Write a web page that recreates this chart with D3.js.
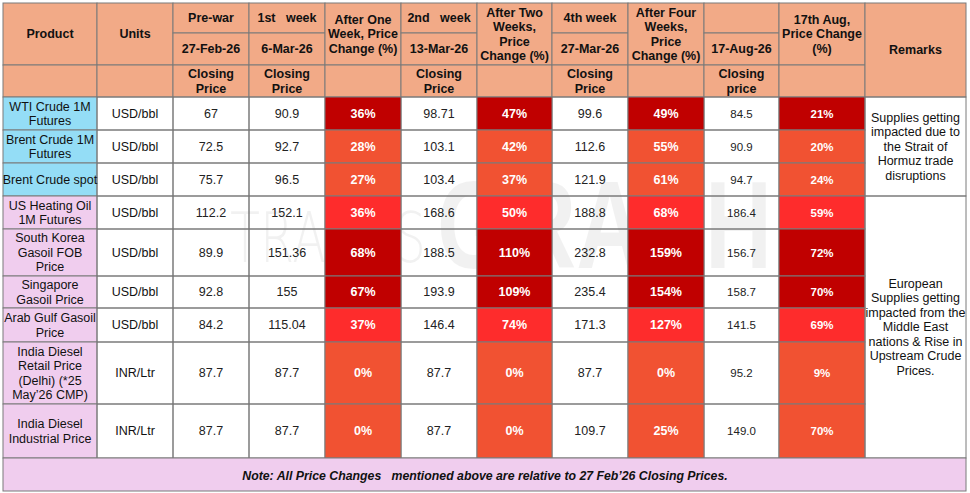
<!DOCTYPE html>
<html>
<head>
<meta charset="utf-8">
<script src="https://cdn.jsdelivr.net/npm/d3@7"></script>
<style>
  body { margin: 0; background: #fff; }
  svg { display: block; font-family: "Liberation Sans", Arial, sans-serif; }
</style>
</head>
<body>
<div id="chart"></div>
<script>
// table data
const products = ["WTI Crude 1M\nFutures", "Brent Crude 1M\nFutures", "Brent Crude spot",
  "US Heating Oil\n1M Futures", "South Korea\nGasoil FOB\nPrice", "Singapore\nGasoil Price",
  "Arab Gulf Gasoil\nPrice", "India Diesel\nRetail Price\n(Delhi) (*25\nMay\u201926 CMP)",
  "India Diesel\nIndustrial Price"];
const productGroup = ["crude", "crude", "crude", "other", "other", "other", "other", "other", "other"];
const units = ["USD/bbl", "USD/bbl", "USD/bbl", "USD/bbl", "USD/bbl", "USD/bbl", "USD/bbl", "INR/Ltr", "INR/Ltr"];
const preWar = ["67", "72.5", "75.7", "112.2", "89.9", "92.8", "84.2", "87.7", "87.7"];
const week1 = ["90.9", "92.7", "96.5", "152.1", "151.36", "155", "115.04", "87.7", "87.7"];
const chg1 = [36, 28, 27, 36, 68, 67, 37, 0, 0];
const week2 = ["98.71", "103.1", "103.4", "168.6", "188.5", "193.9", "146.4", "87.7", "87.7"];
const chg2 = [47, 42, 37, 50, 110, 109, 74, 0, 0];
const week4 = ["99.6", "112.6", "121.9", "188.8", "232.8", "235.4", "171.3", "87.7", "109.7"];
const chg4 = [49, 55, 61, 68, 159, 154, 127, 0, 25];
const aug17 = ["84.5", "90.9", "94.7", "186.4", "156.7", "158.7", "141.5", "95.2", "149.0"];
const chgAug = [21, 20, 24, 59, 72, 70, 69, 9, 70];
const rowTone = ["dark", "orange", "orange", "bright", "dark", "dark", "bright", "orange", "orange"];
const remarks = [
  { text: "Supplies getting\nimpacted due to\nthe Strait of\nHormuz trade\ndisruptions", from: 0, to: 2 },
  { text: "European\nSupplies getting\nimpacted from the\nMiddle East\nnations & Rise in\nUpstream Crude\nPrices.", from: 3, to: 8 }
];
const note = "Note: All Price Changes \u00a0\u00a0mentioned above are relative to 27 Feb\u201926 Closing Prices.";

const W = 970, H = 493;
const colKeys = ["product", "units", "pre", "w1", "c1", "w2", "c2", "w4", "c4", "aug", "caug", "rem"];
const colEdges = [3, 97, 173, 249, 325, 401, 477, 552, 628, 704, 779, 865, 966];
const rowEdges = [97, 130, 163, 196, 229, 276, 308, 342, 404, 458];
const headEdges = [3, 33, 65, 97];
const noteBottom = 491;

const x = d3.scaleOrdinal().domain(colKeys).range(colEdges.slice(0, -1));
const xEnd = d3.scaleOrdinal().domain(colKeys).range(colEdges.slice(1));
const y = d3.scaleOrdinal().domain(d3.range(products.length)).range(rowEdges.slice(0, -1));
const yEnd = d3.scaleOrdinal().domain(d3.range(products.length)).range(rowEdges.slice(1));
const tone = d3.scaleOrdinal().domain(["dark", "orange", "bright"]).range(["#C00000", "#F15232", "#FE2C2C"]);
const groupFill = d3.scaleOrdinal().domain(["crude", "other"]).range(["#94DDF6", "#F0CDEE"]);

const HEAD = "#F2AA87", LINE = "#7a7a7a";

const svg = d3.select("#chart").append("svg").attr("width", W).attr("height", H);
svg.append("rect").attr("width", W).attr("height", H).attr("fill", "#fff");

// watermark, sits under the cells so coloured cells hide it
const wm = svg.append("g").attr("pointer-events", "none").attr("fill", "#000").attr("fill-opacity", 0.055);
wm.append("text").attr("x", 230).attr("y", 262).attr("font-size", 70)
  .attr("font-family", "'DejaVu Sans', sans-serif").attr("font-weight", 200)
  .attr("textLength", 196).attr("lengthAdjust", "spacingAndGlyphs").text("TRADES");
wm.append("text").attr("x", 437).attr("y", 268).attr("font-size", 125).attr("font-weight", "bold")
  .attr("textLength", 335).attr("lengthAdjust", "spacingAndGlyphs").text("GRAPH");

const cells = svg.append("g");
const labels = svg.append("g");

// multi-line text helper
function putText(str, cx, cy, opt) {
  const lines = str.split("\n");
  const lh = opt.lh || 14.5;
  const t = labels.append("text")
    .attr("x", cx).attr("text-anchor", "middle")
    .attr("font-size", opt.size || 12.5)
    .attr("font-weight", opt.bold ? "bold" : "normal")
    .attr("font-style", opt.italic ? "italic" : "normal")
    .attr("fill", opt.color || "#111")
    .attr("xml:space", "preserve")
    .style("white-space", "pre");
  const y0 = cy - (lines.length - 1) * lh / 2;
  lines.forEach((l, i) => {
    t.append("tspan").attr("x", cx).attr("y", y0 + i * lh).attr("dy", "0.35em").text(l);
  });
  return t;
}

function cell(x0, y0, x1, y1, fill) {
  cells.append("rect").attr("x", x0).attr("y", y0).attr("width", x1 - x0).attr("height", y1 - y0)
    .attr("fill", fill).attr("stroke", LINE).attr("stroke-width", 1);
}

// header
const headerCells = [
  { c: "product", r0: 0, r1: 2, t: "Product" },
  { c: "units", r0: 0, r1: 2, t: "Units" },
  { c: "product", r0: 2, r1: 3, t: "" },
  { c: "units", r0: 2, r1: 3, t: "" },
  { c: "pre", r0: 0, r1: 1, t: "Pre-war" },
  { c: "pre", r0: 1, r1: 2, t: "27-Feb-26" },
  { c: "pre", r0: 2, r1: 3, t: "Closing\nPrice" },
  { c: "w1", r0: 0, r1: 1, t: "1st   week" },
  { c: "w1", r0: 1, r1: 2, t: "6-Mar-26" },
  { c: "w1", r0: 2, r1: 3, t: "Closing\nPrice" },
  { c: "c1", r0: 0, r1: 2, t: "After One\nWeek, Price\nChange (%)" },
  { c: "c1", r0: 2, r1: 3, t: "" },
  { c: "w2", r0: 0, r1: 1, t: "2nd   week" },
  { c: "w2", r0: 1, r1: 2, t: "13-Mar-26" },
  { c: "w2", r0: 2, r1: 3, t: "Closing\nPrice" },
  { c: "c2", r0: 0, r1: 2, t: "After Two\nWeeks,\nPrice\nChange (%)" },
  { c: "c2", r0: 2, r1: 3, t: "" },
  { c: "w4", r0: 0, r1: 1, t: "4th week" },
  { c: "w4", r0: 1, r1: 2, t: "27-Mar-26" },
  { c: "w4", r0: 2, r1: 3, t: "Closing\nPrice" },
  { c: "c4", r0: 0, r1: 2, t: "After Four\nWeeks,\nPrice\nChange (%)" },
  { c: "c4", r0: 2, r1: 3, t: "" },
  { c: "aug", r0: 0, r1: 1, t: "" },
  { c: "aug", r0: 1, r1: 2, t: "17-Aug-26" },
  { c: "aug", r0: 2, r1: 3, t: "Closing\nprice" },
  { c: "caug", r0: 0, r1: 2, t: "17th Aug,\nPrice Change\n(%)" },
  { c: "caug", r0: 2, r1: 3, t: "" },
  { c: "rem", r0: 0, r1: 3, t: "Remarks" }
];
headerCells.forEach(d => {
  const x0 = x(d.c), x1 = xEnd(d.c), y0 = headEdges[d.r0], y1 = headEdges[d.r1];
  cell(x0, y0, x1, y1, HEAD);
  if (d.t) putText(d.t, (x0 + x1) / 2, (y0 + y1) / 2, { bold: true, size: 12.5, lh: 14.5 });
});

// body
const idx = d3.range(products.length);
const numCols = [
  { c: "pre", v: preWar }, { c: "w1", v: week1 }, { c: "w2", v: week2 },
  { c: "w4", v: week4 }, { c: "aug", v: aug17, size: 11.5 }
];
const chgCols = [
  { c: "c1", v: chg1 }, { c: "c2", v: chg2 }, { c: "c4", v: chg4 }, { c: "caug", v: chgAug, size: 11.5 }
];

idx.forEach(i => {
  const y0 = y(i), y1 = yEnd(i), cy = (y0 + y1) / 2;
  cell(x("product"), y0, xEnd("product"), y1, groupFill(productGroup[i]));
  putText(products[i], (x("product") + xEnd("product")) / 2, cy, { size: 12.5, lh: 14.5 });
  cell(x("units"), y0, xEnd("units"), y1, "none");
  putText(units[i], (x("units") + xEnd("units")) / 2, cy, { size: 12.5 });
  numCols.forEach(col => {
    cell(x(col.c), y0, xEnd(col.c), y1, "none");
    putText(col.v[i], (x(col.c) + xEnd(col.c)) / 2, cy, { size: col.size || 12.5, color: "#222" });
  });
  chgCols.forEach(col => {
    cell(x(col.c), y0, xEnd(col.c), y1, tone(rowTone[i]));
    putText(d3.format(".0f")(col.v[i]) + "%", (x(col.c) + xEnd(col.c)) / 2, cy,
      { size: col.size || 12.5, bold: true, color: "#fff" });
  });
});

remarks.forEach(r => {
  const y0 = y(r.from), y1 = yEnd(r.to);
  cell(x("rem"), y0, xEnd("rem"), y1, "none");
  putText(r.text, (x("rem") + xEnd("rem")) / 2, (y0 + y1) / 2, { size: 12.5, lh: 14.5 });
});

// note row
cell(colEdges[0], rowEdges[rowEdges.length - 1], colEdges[colEdges.length - 1], noteBottom, "#F0CDEE");
putText(note, 485, (rowEdges[rowEdges.length - 1] + noteBottom) / 2 + 1, { size: 12.3, bold: true, italic: true });
</script>
</body>
</html>
